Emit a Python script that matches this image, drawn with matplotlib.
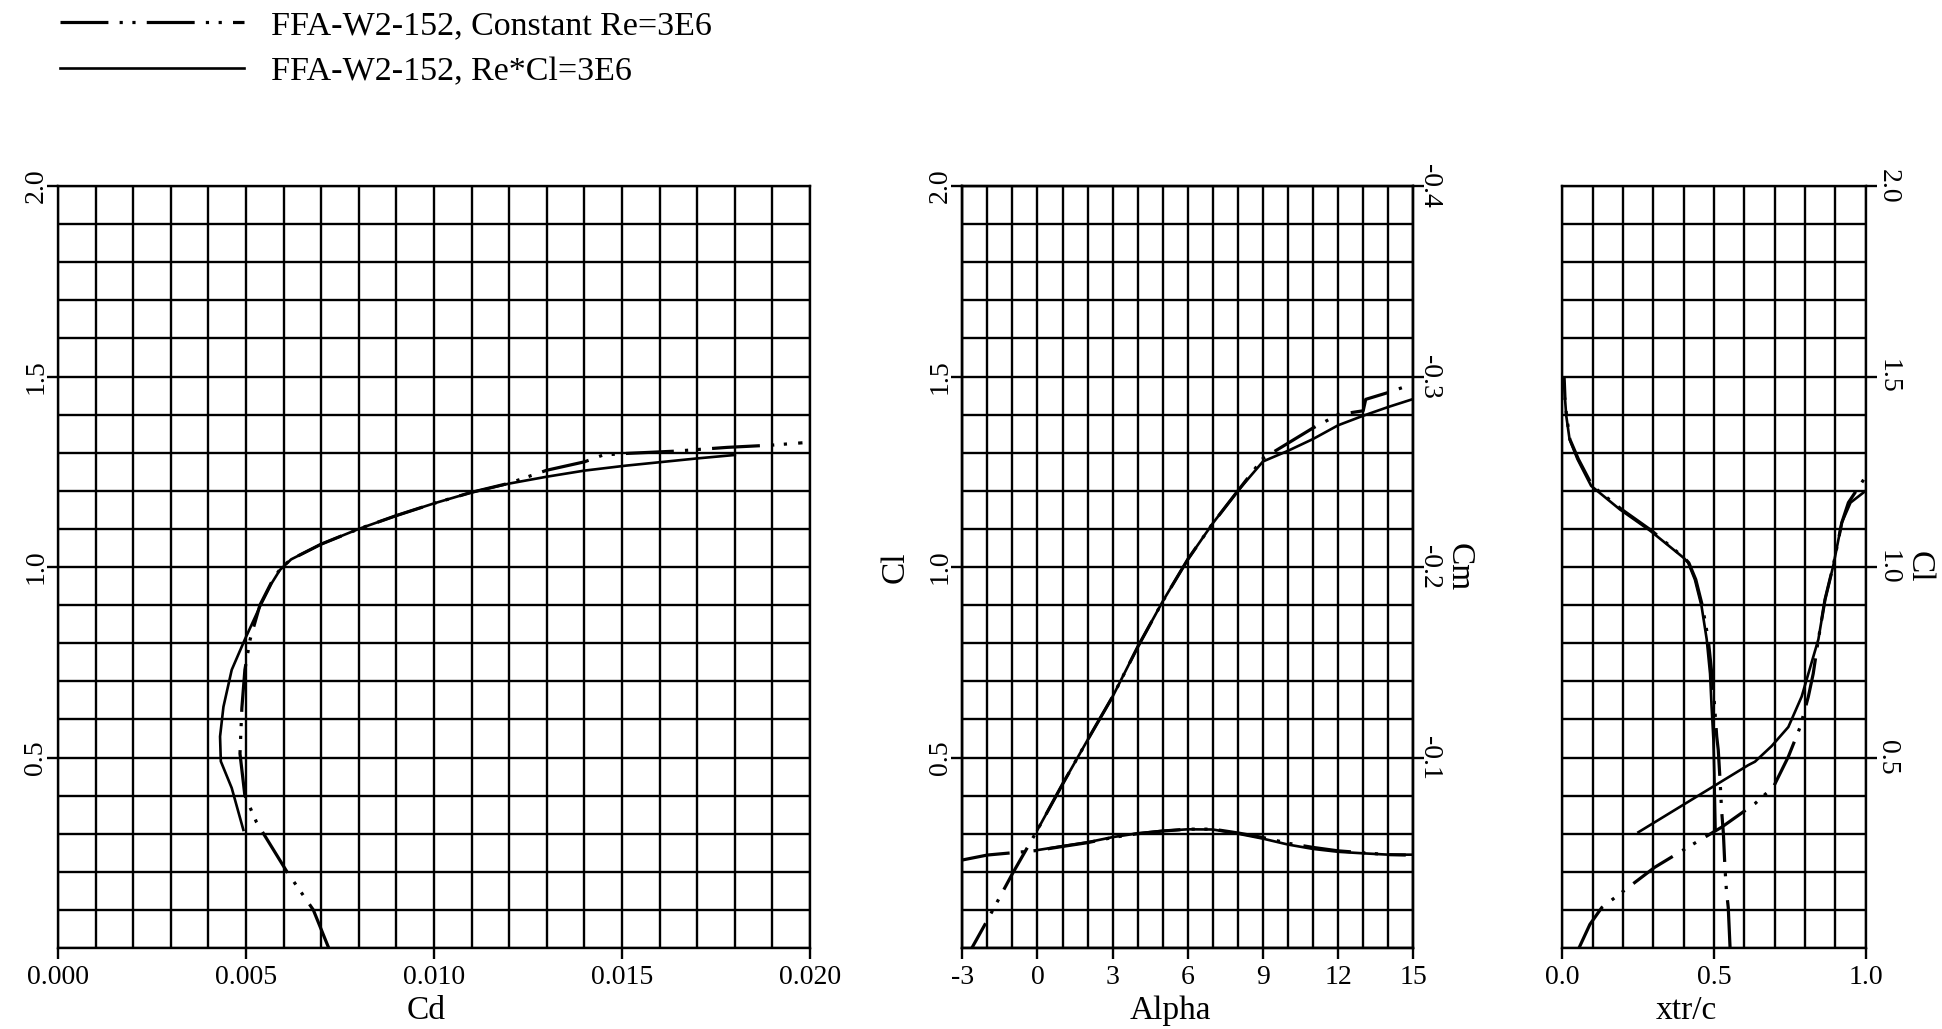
import numpy as np
import matplotlib.pyplot as plt
from matplotlib.ticker import MultipleLocator

plt.rcParams['font.family'] = ['Liberation Serif', 'DejaVu Serif']
plt.rcParams['axes.unicode_minus'] = False

LABEL_RE = "FFA-W2-152, Constant Re=3E6"
LABEL_RECL = "FFA-W2-152, Re*Cl=3E6"

# drag polar, constant Re
cd_re = [0.00720, 0.00679, 0.00609, 0.00528, 0.00497, 0.00484, 0.00489, 0.00497,
         0.00511, 0.00537, 0.00573, 0.00595, 0.00620, 0.00700, 0.00800, 0.00900,
         0.01000, 0.01100, 0.01200, 0.01250, 0.01300, 0.01400, 0.01450, 0.01510,
         0.01640, 0.01780, 0.01900, 0.01980]
cl_cd_re = [0.00, 0.10, 0.20, 0.33, 0.40, 0.51, 0.63, 0.73, 0.81, 0.90, 0.97, 1.00,
            1.02, 1.06, 1.10, 1.135, 1.167, 1.196, 1.22, 1.237, 1.254, 1.276, 1.294,
            1.298, 1.304, 1.314, 1.320, 1.326]

# drag polar, Re*Cl constant
cd_recl = [0.00493, 0.00462, 0.00433, 0.00431, 0.00440, 0.00462, 0.00497, 0.00537,
           0.00568, 0.00590, 0.00620, 0.00700, 0.00800, 0.00900, 0.01000, 0.01100,
           0.01200, 0.01300, 0.01400, 0.01510, 0.01610, 0.01700, 0.01800]
cl_cd_recl = [0.31, 0.42, 0.49, 0.555, 0.633, 0.73, 0.81, 0.896, 0.957, 0.992, 1.02,
              1.06, 1.10, 1.135, 1.167, 1.196, 1.219, 1.237, 1.253, 1.266, 1.276,
              1.285, 1.294]

# lift and moment vs alpha
alpha_re = [-3, -2, -1, 0, 1, 2, 3, 4, 5, 6, 7, 8, 9, 10, 11, 12, 13, 13.1, 14, 14.7]
cl_re = [-0.045, 0.073, 0.195, 0.31, 0.43, 0.546, 0.66, 0.79, 0.91, 1.02, 1.115,
         1.20, 1.285, 1.325, 1.365, 1.40, 1.41, 1.44, 1.458, 1.474]
cm_re = [-0.0462, -0.0488, -0.0500, -0.0512, -0.0533, -0.0553, -0.0580, -0.0600,
         -0.0614, -0.0624, -0.0624, -0.0604, -0.0580, -0.0550, -0.0528, -0.0510,
         -0.0500, -0.0499, -0.0490, -0.0488]

alpha_recl = [0, 1, 2, 3, 4, 5, 6, 7, 8, 9, 10, 11, 12, 13, 14, 15]
cl_recl = [0.31, 0.43, 0.546, 0.66, 0.79, 0.91, 1.02, 1.115, 1.20, 1.277, 1.305,
           1.336, 1.372, 1.397, 1.42, 1.441]
cm_recl = [-0.0514, -0.0535, -0.0555, -0.0582, -0.0602, -0.0615, -0.0623, -0.0622,
           -0.0600, -0.0574, -0.0543, -0.0520, -0.0505, -0.0497, -0.0490, -0.0490]

# transition location, upper and lower surface
cl_top_re = [0.00, 0.106, 0.15, 0.212, 0.30, 0.362, 0.44, 0.52, 0.555, 0.68, 0.81,
             0.897, 0.967, 1.011, 1.024, 1.095, 1.151, 1.213, 1.283, 1.335, 1.397,
             1.44, 1.50]
xtr_top_re = [0.553, 0.547, 0.541, 0.536, 0.531, 0.525, 0.520, 0.514, 0.509, 0.498,
              0.481, 0.462, 0.440, 0.417, 0.402, 0.295, 0.196, 0.099, 0.053, 0.025,
              0.014, 0.009, 0.006]
cl_top_recl = [0.31, 0.388, 0.458, 0.547, 0.635, 0.72, 0.81, 0.897, 0.967, 1.011,
               1.024, 1.095, 1.151, 1.213, 1.283, 1.335, 1.397, 1.441]
xtr_top_recl = [0.505, 0.503, 0.501, 0.498, 0.492, 0.487, 0.476, 0.459, 0.437, 0.415,
                0.400, 0.290, 0.190, 0.095, 0.050, 0.024, 0.013, 0.009]

cl_bot_re = [0.00, 0.062, 0.106, 0.146, 0.212, 0.265, 0.317, 0.379, 0.423, 0.502,
             0.58, 0.66, 0.72, 0.81, 0.915, 1.003, 1.116, 1.169, 1.235]
xtr_bot_re = [0.055, 0.091, 0.130, 0.196, 0.305, 0.415, 0.525, 0.635, 0.696, 0.745,
              0.784, 0.811, 0.827, 0.844, 0.866, 0.893, 0.921, 0.943, 0.998]
cl_bot_recl = [0.304, 0.48, 0.489, 0.53, 0.58, 0.66, 0.72, 0.81, 0.915, 1.003, 1.116,
               1.169, 1.20]
xtr_bot_recl = [0.251, 0.613, 0.635, 0.690, 0.745, 0.789, 0.811, 0.844, 0.866, 0.893,
                0.921, 0.950, 1.000]

W, H = 1942, 1029
DASH_DOT_DOT = (0, (15, 3.5, 1, 3, 1, 3.5))
STYLE_RE = dict(color='black', lw=2.3, ls=DASH_DOT_DOT)
STYLE_RECL = dict(color='black', lw=1.9, ls='-')
TICK_FS = 20
LABEL_FS = 24
LW_GRID = 1.7


def setup_grid(ax, xstep, ystep):
    """ Square grid on every step, ticks only on the labelled values """
    ax.xaxis.set_minor_locator(MultipleLocator(xstep))
    ax.yaxis.set_minor_locator(MultipleLocator(ystep))
    ax.grid(which='both', color='black', lw=LW_GRID)
    ax.set_axisbelow(True)
    ax.tick_params(which='minor', length=0)
    ax.tick_params(which='major', direction='out', length=8, width=LW_GRID,
                   labelsize=TICK_FS)
    ax.tick_params(axis='x', pad=4)
    ax.tick_params(axis='y', pad=-1)
    for s in ax.spines.values():
        s.set_linewidth(LW_GRID)


fig = plt.figure(figsize=(W / 100, H / 100), dpi=100)
bottom, height = 81 / H, 762 / H
cl_ticks = [0.5, 1.0, 1.5, 2.0]
cl_labels = ['%.1f' % v for v in cl_ticks]

# Cd - Cl polar
ax1 = fig.add_axes([58 / W, bottom, 752 / W, height])
ax1.plot(cd_re, cl_cd_re, **STYLE_RE)
ax1.plot(cd_recl, cl_cd_recl, **STYLE_RECL)
ax1.set_xlim(0, 0.020)
ax1.set_ylim(0, 2.0)
setup_grid(ax1, 0.001, 0.1)
cd_ticks = [0.0, 0.005, 0.010, 0.015, 0.020]
ax1.set_xticks(cd_ticks, ['%.3f' % v for v in cd_ticks])
ax1.set_yticks(cl_ticks, cl_labels, rotation=90, va='center')
ax1.set_xlabel('Cd', fontsize=LABEL_FS)
ax1.xaxis.set_label_coords(0.49, -0.062)

# Cl and Cm vs alpha
ax2 = fig.add_axes([962.3 / W, bottom, 451 / W, height])
ax2.plot(alpha_re, cl_re, **STYLE_RE)
ax2.plot(alpha_recl, cl_recl, **STYLE_RECL)
ax2.set_xlim(-3, 15)
ax2.set_ylim(0, 2.0)
setup_grid(ax2, 1, 0.1)
alpha_ticks = [-3, 0, 3, 6, 9, 12, 15]
ax2.set_xticks(alpha_ticks, [str(v) for v in alpha_ticks])
ax2.set_yticks(cl_ticks, cl_labels, rotation=90, va='center')
ax2.set_xlabel('Alpha', fontsize=LABEL_FS)
ax2.xaxis.set_label_coords(0.461, -0.062)
ax2.set_ylabel('Cl', fontsize=LABEL_FS, labelpad=12)

ax2m = ax2.twinx()
ax2m.plot(alpha_re, cm_re, **STYLE_RE)
ax2m.plot(alpha_recl, cm_recl, **STYLE_RECL)
ax2m.set_ylim(0, -0.4)
cm_ticks = [-0.1, -0.2, -0.3, -0.4]
ax2m.set_yticks(cm_ticks, ['%.1f' % v for v in cm_ticks], rotation=270, va='center')
ax2m.tick_params(direction='out', length=8, width=LW_GRID, labelsize=TICK_FS, pad=-5)
for s in ax2m.spines.values():
    s.set_linewidth(LW_GRID)
ax2m.set_ylabel('Cm', fontsize=LABEL_FS, rotation=270, labelpad=1, va='bottom')

# transition location
ax3 = fig.add_axes([1562.3 / W, bottom, 303.4 / W, height])
ax3.plot(xtr_top_re, cl_top_re, **STYLE_RE)
ax3.plot(xtr_bot_re, cl_bot_re, **STYLE_RE)
ax3.plot(xtr_top_recl, cl_top_recl, **STYLE_RECL)
ax3.plot(xtr_bot_recl, cl_bot_recl, **STYLE_RECL)
ax3.set_xlim(0, 1.0)
ax3.set_ylim(0, 2.0)
setup_grid(ax3, 0.1, 0.1)
ax3.yaxis.tick_right()
ax3.yaxis.set_label_position('right')
ax3.set_xticks([0.0, 0.5, 1.0], ['0.0', '0.5', '1.0'])
ax3.set_yticks(cl_ticks, cl_labels, rotation=270, va='center')
ax3.set_xlabel('xtr/c', fontsize=LABEL_FS)
ax3.xaxis.set_label_coords(0.41, -0.062)
ax3.set_ylabel('Cl', fontsize=LABEL_FS, rotation=270, labelpad=2, va='bottom')

# legend above the panels
handles = [plt.Line2D([], [], **STYLE_RE), plt.Line2D([], [], **STYLE_RECL)]
fig.legend(handles, [LABEL_RE, LABEL_RECL], loc='upper left',
           bbox_to_anchor=(60 / W, 1 - 10 / H), frameon=False, fontsize=24.5,
           handlelength=5.4, handletextpad=0.8, labelspacing=0.45,
           borderpad=0, borderaxespad=0)

fig.savefig('out.png', dpi=100)
